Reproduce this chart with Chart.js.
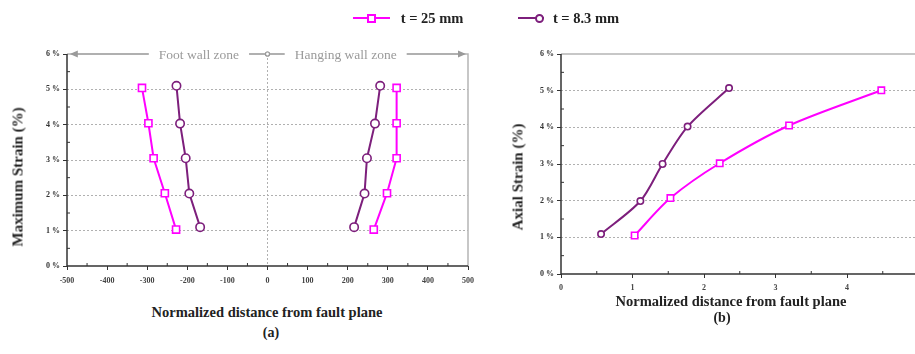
<!DOCTYPE html>
<html lang="en">
<head>
<meta charset="UTF-8">
<title>Strain vs. normalized distance from fault plane</title>
<script src="https://cdn.jsdelivr.net/npm/chart.js"></script>
<style>
    body {
        margin: 0;
        width: 915px;
        height: 354px;
        overflow: hidden;
        background: #fff;
        position: relative;
        font-family: "Liberation Serif", "DejaVu Serif", serif;
    }
    canvas { position: absolute; top: 0; }
    #left { left: 0; }
    #right { left: 500px; }
    .txt {
        position: absolute;
        font-weight: bold;
        color: #222;
        white-space: nowrap;
        transform: translate(-50%, -50%);
    }
    .rot { transform: translate(-50%, -50%) rotate(-90deg); }
    .key { position: absolute; height: 2px; }
    .mk { position: absolute; width: 5px; height: 5px; background: #fff; }
</style>
</head>
<body>
<canvas id="left" width="480" height="290"></canvas>
<canvas id="right" width="430" height="300"></canvas>

<!-- legend -->
<div class="key" style="left:353px; top:17px; width:37px; background:#ff00ff"></div>
<div class="mk" style="left:367px; top:14px; border:2px solid #ff00ff"></div>
<div class="txt" style="left:432px; top:18px; font-size:14.5px">t = 25 mm</div>
<div class="key" style="left:518px; top:17px; width:26px; background:#7d1f7c"></div>
<div class="mk" style="left:535px; top:14px; border:2px solid #7d1f7c; border-radius:50%"></div>
<div class="txt" style="left:586px; top:18px; font-size:14.5px">t = 8.3 mm</div>

<!-- axis titles -->
<div class="txt rot" style="left:18px; top:177px; font-size:15px">Maximum Strain (%)</div>
<div class="txt" style="left:267px; top:312px; font-size:14.5px">Normalized distance from fault plane</div>
<div class="txt" style="left:271px; top:333px; font-size:14px">(a)</div>
<div class="txt rot" style="left:518px; top:177px; font-size:15px">Axial Strain (%)</div>
<div class="txt" style="left:731px; top:301px; font-size:14.5px">Normalized distance from fault plane</div>
<div class="txt" style="left:722px; top:318px; font-size:14px">(b)</div>

<script>
    // (a) maximum strain on both sides of the fault
    const strainLevels25 = [1.03, 2.06, 3.05, 4.04, 5.04];
    const strainLevels83 = [1.1, 2.05, 3.05, 4.03, 5.1];
    const foot25 = [-228, -256, -284, -297, -313];
    const hang25 = [265, 298, 322, 322, 322];
    const foot83 = [-168, -195, -204, -218, -227];
    const hang83 = [216, 242, 248, 268, 281];

    // (b) axial strain
    const dist25 = [1.03, 1.53, 2.22, 3.19, 4.48];
    const axial25 = [1.05, 2.07, 3.02, 4.05, 5.01];
    const dist83 = [0.56, 1.11, 1.42, 1.77, 2.35];
    const axial83 = [1.09, 1.99, 3.0, 4.02, 5.07];

    const zoneLabels = [
        { text: "Foot wall zone", from: 0, to: -488, center: -171 },
        { text: "Hanging wall zone", from: 0, to: 490, center: 195 }
    ];

    const MAGENTA = "#ff00ff";
    const PURPLE = "#7d1f7c";
    const SERIF = '"Liberation Serif", "DejaVu Serif", serif';
    const AXIS = "#333";

    const pts = (xs, ys) => xs.map((v, i) => ({ x: v, y: ys[i] }));

    function series(data, color, style, r) {
        return {
            data: data,
            borderColor: color,
            borderWidth: 2,
            pointStyle: style,
            pointRadius: r,
            pointBorderWidth: 1.6,
            pointBackgroundColor: "#fff",
            pointBorderColor: color,
            showLine: true,
            fill: false
        };
    }

    // axis lines, outer frame and minor ticks
    const frame = {
        id: "frame",
        beforeDatasetsDraw(chart, args, opts) {
            const { ctx, chartArea: a, scales: { x, y } } = chart;
            ctx.save();
            ctx.strokeStyle = "#b5b5b5";
            ctx.lineWidth = 1.5;
            ctx.beginPath();
            ctx.moveTo(a.left, a.top);
            ctx.lineTo(a.right, a.top);
            if (opts.rightBorder) ctx.lineTo(a.right, a.bottom);
            ctx.stroke();

            ctx.strokeStyle = AXIS;
            ctx.lineWidth = 1.5;
            ctx.beginPath();
            ctx.moveTo(a.left, a.top);
            ctx.lineTo(a.left, a.bottom);
            ctx.lineTo(a.right, a.bottom);
            ctx.stroke();

            ctx.lineWidth = 1;
            ctx.beginPath();
            for (let v = x.min + opts.xStep / 2; v < x.max; v += opts.xStep) {
                const px = x.getPixelForValue(v);
                ctx.moveTo(px, a.bottom);
                ctx.lineTo(px, a.bottom - 3);
            }
            for (let v = y.min + 0.5; v < y.max; v += 1) {
                const py = y.getPixelForValue(v);
                ctx.moveTo(a.left, py);
                ctx.lineTo(a.left + 3, py);
            }
            ctx.stroke();
            ctx.restore();
        }
    };

    // "Foot wall zone" / "Hanging wall zone" arrows along the top
    const zones = {
        id: "zones",
        afterDraw(chart) {
            if (chart.canvas.id !== "left") return;
            const { ctx, scales: { x, y } } = chart;
            const yy = y.getPixelForValue(6);
            ctx.save();
            ctx.font = "13.5px " + SERIF;
            ctx.textAlign = "center";
            ctx.textBaseline = "middle";
            ctx.lineWidth = 1.2;
            zoneLabels.forEach(z => {
                const x0 = x.getPixelForValue(z.from);
                const x1 = x.getPixelForValue(z.to);
                const cx = x.getPixelForValue(z.center);
                const half = ctx.measureText(z.text).width / 2 + 10;
                ctx.strokeStyle = "#9a9a9a";
                ctx.fillStyle = "#9a9a9a";
                ctx.beginPath();
                ctx.moveTo(x0, yy);
                ctx.lineTo(x1, yy);
                ctx.stroke();
                const dir = Math.sign(x1 - x0);
                ctx.beginPath();
                ctx.moveTo(x1 + dir * 2, yy);
                ctx.lineTo(x1 - dir * 6, yy - 3.5);
                ctx.lineTo(x1 - dir * 6, yy + 3.5);
                ctx.closePath();
                ctx.fill();
                ctx.beginPath();
                ctx.arc(x0, yy, 2, 0, Math.PI * 2);
                ctx.fillStyle = "#fff";
                ctx.fill();
                ctx.stroke();
                ctx.fillStyle = "#fff";
                ctx.fillRect(cx - half, yy - 8, half * 2, 16);
                ctx.fillStyle = "#9a9a9a";
                ctx.fillText(z.text, cx, yy + 1);
            });
            ctx.restore();
        }
    };

    function yScale(width) {
        return {
            min: 0,
            max: 6,
            afterFit(s) { s.width = width; },
            ticks: {
                stepSize: 1,
                padding: 3,
                color: "#333",
                font: { family: SERIF, size: 8, weight: "bold" },
                callback: v => v + " %"
            },
            grid: {
                color: c => (c.tick && c.tick.value > 0 && c.tick.value < 6) ? "#b0b0b0" : "rgba(0,0,0,0)",
                lineWidth: 1,
                tickColor: AXIS,
                tickLength: 4
            },
            border: { display: false, dash: [2, 2] }
        };
    }

    function xScale(min, max, step, height, pad, gridAt) {
        return {
            type: "linear",
            min: min,
            max: max,
            afterFit(s) { s.height = height; },
            ticks: {
                stepSize: step,
                padding: pad,
                color: "#444",
                maxRotation: 0,
                font: { family: SERIF, size: 8, weight: "bold" },
                callback: v => String(v)
            },
            grid: {
                color: c => (gridAt !== null && c.tick && c.tick.value === gridAt) ? "#b0b0b0" : "rgba(0,0,0,0)",
                lineWidth: 1,
                tickColor: AXIS,
                tickLength: 4
            },
            border: { display: false, dash: [2, 2] }
        };
    }

    const common = {
        responsive: false,
        animation: false,
        plugins: { legend: { display: false }, tooltip: { enabled: false } }
    };

    new Chart(document.getElementById("left"), {
        type: "scatter",
        data: {
            datasets: [
                series(pts(foot25, strainLevels25), MAGENTA, "rect", 5),
                series(pts(hang25, strainLevels25), MAGENTA, "rect", 5),
                series(pts(foot83, strainLevels83), PURPLE, "circle", 4.2),
                series(pts(hang83, strainLevels83), PURPLE, "circle", 4.2)
            ]
        },
        options: {
            ...common,
            layout: { padding: { top: 54, right: 9, left: 0, bottom: 0 } },
            scales: { x: xScale(-500, 500, 100, 24, 6, 0), y: yScale(67) },
            plugins: { ...common.plugins, frame: { rightBorder: true, xStep: 100 } }
        },
        plugins: [frame, zones]
    });

    const right = [
        series(pts(dist25, axial25), MAGENTA, "rect", 4.5),
        series(pts(dist83, axial83), PURPLE, "circle", 3.2)
    ];
    right.forEach(d => { d.tension = 0.3; });

    new Chart(document.getElementById("right"), {
        type: "scatter",
        data: { datasets: right },
        options: {
            ...common,
            layout: { padding: { top: 54, right: 11.5, left: 0, bottom: 0 } },
            scales: { x: xScale(0, 5, 1, 26, 5, null), y: yScale(61) },
            plugins: { ...common.plugins, frame: { rightBorder: false, xStep: 1 } }
        },
        plugins: [frame]
    });
</script>
</body>
</html>
